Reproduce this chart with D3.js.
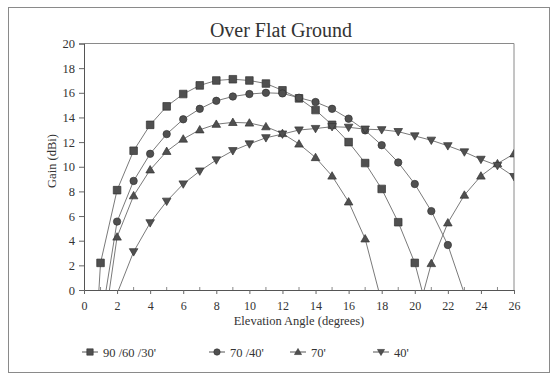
<!DOCTYPE html>
<html>
<head>
<meta charset="utf-8">
<script src="https://cdn.jsdelivr.net/npm/d3@7"></script>
<style>
  html, body { margin: 0; padding: 0; background: #fff; }
  svg { display: block; }
  text { font-family: "Liberation Serif", "Times New Roman", serif; fill: #333; }
</style>
</head>
<body>
<svg id="chart" width="556" height="382"></svg>
<script>
// ---- Data ----
const elevation = [0,1,2,3,4,5,6,7,8,9,10,11,12,13,14,15,16,17,18,19,20,21,22,23,24,25,26];
// values outside 0..20 are clipped by the plot area, as in the original
const gain90_60_30 = [-20, 2.2, 8.1, 11.3, 13.4, 14.9, 15.9, 16.6, 17.0, 17.1, 17.0, 16.75, 16.2, 15.55, 14.6, 13.4, 12.0, 10.3, 8.2, 5.5, 2.2, -2.9, null, null, null, null, null];
const gain70_40   = [null, -2.8, 5.55, 8.85, 11.05, 12.65, 13.85, 14.7, 15.35, 15.7, 15.9, 16.0, 15.95, 15.6, 15.25, 14.7, 13.9, 12.95, 11.75, 10.35, 8.6, 6.4, 3.65, -0.3, null, null, null];
const gain70      = [null, -5.0, 4.3, 7.65, 9.75, 11.25, 12.25, 13.0, 13.45, 13.6, 13.55, 13.25, 12.7, 11.85, 10.75, 9.25, 7.15, 4.15, -1.0, -8.0, -2.8, 2.15, 5.45, 7.7, 9.25, 10.25, 11.05];
const gain40      = [null, null, -0.3, 3.1, 5.45, 7.2, 8.6, 9.65, 10.55, 11.3, 11.85, 12.35, 12.65, 12.98, 13.1, 13.25, 13.2, 13.05, 13.0, 12.85, 12.5, 12.15, 11.7, 11.2, 10.6, 10.1, 9.2];
const seriesNames = ["90 /60 /30'", "70 /40'", "70'", "40'"];
const seriesSymbols = ["square", "circle", "triangle", "triangleDown"];
const xTicks = [0,2,4,6,8,10,12,14,16,18,20,22,24,26];
const yTicks = [0,2,4,6,8,10,12,14,16,18,20];
const titleText = "Over Flat Ground";
const xTitle = "Elevation Angle (degrees)";
const yTitle = "Gain (dBi)";

const seriesValues = [gain90_60_30, gain70_40, gain70, gain40];

// ---- Layout ----
const svg = d3.select("#chart");
const pLeft = 84, pRight = 514, pTop = 43.5, pBottom = 290;
const x = d3.scaleLinear().domain([0, 26]).range([pLeft, pRight]);
const y = d3.scaleLinear().domain([0, 20]).range([pBottom, pTop]);

const markerColor = "#505050";
const lineColor = "#7a7a7a";

// outer border
svg.append("rect").attr("x", 8.5).attr("y", 7.5).attr("width", 541).attr("height", 365)
  .attr("fill", "none").attr("stroke", "#8a8a8a").attr("stroke-width", 1);

// title
svg.append("text").attr("x", 281).attr("y", 37).attr("text-anchor", "middle")
  .style("font-size", "20px").text(titleText);

// plot frame (top/right)
svg.append("path")
  .attr("d", `M${pLeft},${pTop}H${pRight}V${pBottom}`)
  .attr("fill", "none").attr("stroke", "#8a8a8a").attr("stroke-width", 1);

// y axis
const yAxis = d3.axisLeft(y).tickValues(yTicks).tickSize(5).tickPadding(4).tickFormat(d3.format("d"));
const gy = svg.append("g").attr("transform", `translate(${pLeft},0)`).call(yAxis);
gy.select(".domain").attr("stroke", "#555");
gy.selectAll(".tick line").attr("stroke", "#666");
gy.selectAll(".tick text").style("font-size", "12.5px").attr("fill", "#444")
  .style("font-family", "'Liberation Serif', serif");

// x axis
const xAxis = d3.axisBottom(x).tickValues(xTicks).tickSize(4).tickPadding(7).tickFormat(d3.format("d"));
const gx = svg.append("g").attr("transform", `translate(0,${pBottom})`).call(xAxis);
gx.select(".domain").attr("stroke", "#555");
gx.selectAll(".tick line").attr("stroke", "#666");
gx.selectAll(".tick text").style("font-size", "12px").attr("fill", "#444")
  .style("font-family", "'Liberation Serif', serif");
// minor ticks (odd degrees), pointing inside
svg.append("g").selectAll("line").data(elevation.filter(d => d % 2 === 1)).join("line")
  .attr("x1", d => x(d)).attr("x2", d => x(d)).attr("y1", pBottom).attr("y2", pBottom - 3)
  .attr("stroke", "#888");

// axis titles
svg.append("text").attr("x", 299).attr("y", 325).attr("text-anchor", "middle")
  .style("font-size", "12.5px").attr("fill", "#444").text(xTitle);
svg.append("text").attr("transform", "translate(56,161) rotate(-90)").attr("text-anchor", "middle")
  .style("font-size", "12.5px").attr("fill", "#444").text(yTitle);

// clip
svg.append("clipPath").attr("id", "plotclip").append("rect")
  .attr("x", pLeft).attr("y", pTop).attr("width", pRight - pLeft).attr("height", pBottom - pTop);

function symbolPath(kind, size) {
  const s = size;
  if (kind === "square") return `M${-s},${-s}H${s}V${s}H${-s}Z`;
  if (kind === "circle") return d3.symbol(d3.symbolCircle, Math.PI * s * s)();
  if (kind === "triangle") return `M0,${-s * 1.1}L${s * 1.1},${s * 0.8}L${-s * 1.1},${s * 0.8}Z`;
  return `M0,${s * 1.1}L${s * 1.1},${-s * 0.8}L${-s * 1.1},${-s * 0.8}Z`;
}
const symbolSize = [3.8, 3.7, 3.9, 3.9];

const plot = svg.append("g").attr("clip-path", "url(#plotclip)");
const line = d3.line().defined(d => d[1] !== null).x(d => x(d[0])).y(d => y(d[1]));

seriesValues.forEach((vals, i) => {
  const pts = elevation.map((e, k) => [e, vals[k]]);
  plot.append("path").datum(pts).attr("d", line)
    .attr("fill", "none").attr("stroke", lineColor).attr("stroke-width", 1);
});
seriesValues.forEach((vals, i) => {
  const pts = elevation.map((e, k) => [e, vals[k]]).filter(d => d[1] !== null && d[1] >= 0 && d[1] <= 20);
  plot.append("g").selectAll("path").data(pts).join("path")
    .attr("transform", d => `translate(${x(d[0])},${y(d[1])})`)
    .attr("d", symbolPath(seriesSymbols[i], symbolSize[i]))
    .attr("fill", markerColor).attr("stroke", "#333").attr("stroke-width", 0.7);
});

// legend
const legendY = 352;
const legendX = [90, 217, 298, 381];
seriesNames.forEach((name, i) => {
  const g = svg.append("g").attr("transform", `translate(${legendX[i]},${legendY})`);
  g.append("line").attr("x1", -8).attr("x2", 8).attr("y1", 0).attr("y2", 0)
    .attr("stroke", "#555").attr("stroke-width", 1);
  g.append("path").attr("d", symbolPath(seriesSymbols[i], 3.2))
    .attr("fill", markerColor).attr("stroke", "#333").attr("stroke-width", 0.6);
  g.append("text").attr("x", 13).attr("y", 4.5).style("font-size", "12.5px").attr("fill", "#444").text(name);
});
</script>
</body>
</html>
